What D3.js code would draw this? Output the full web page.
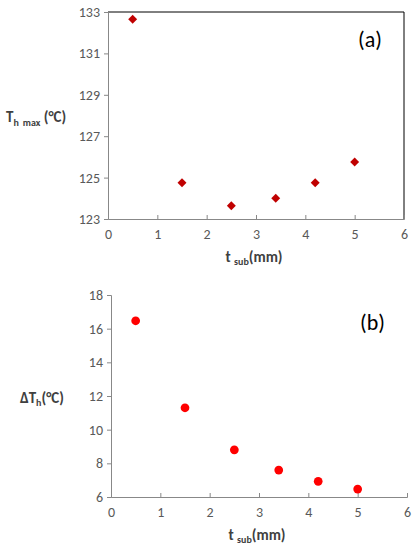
<!DOCTYPE html>
<html><head><meta charset="utf-8">
<script src="https://cdn.jsdelivr.net/npm/d3@7"></script>
<style>body{margin:0;background:#fff}text{font-family:Carlito,"Open Sans",sans-serif}</style>
</head><body><svg id="c" width="416" height="557"></svg>
<script>
const xA = [0.5, 1.5, 2.5, 3.4, 4.2, 5];
const thMax = [132.65, 124.75, 123.64, 124.0, 124.75, 125.75];
const xB = [0.5, 1.5, 2.5, 3.4, 4.2, 5];
const dTh = [16.47, 11.3, 8.8, 7.6, 6.93, 6.47];
const ticksA = [123, 125, 127, 129, 131, 133];
const ticksB = [6, 8, 10, 12, 14, 16, 18];
const ticksX = [0, 1, 2, 3, 4, 5, 6];

const svg = d3.select("#c");
const grey = "#595959";

function panel(o) {
    const x = d3.scaleLinear().domain([0, 6]).range([o.x0, o.x1]);
    const y = d3.scaleLinear().domain(o.dom).range([o.y1, o.y0]);
    const g = svg.append("g");
    if (o.box) {
        g.append("path").attr("d", `M${o.x0},${o.y0}H${o.x1}V${o.y1}`)
            .attr("stroke", "#000").attr("fill", "none");
    }
    g.append("g").attr("transform", `translate(0,${o.y1})`)
        .call(d3.axisBottom(x).tickValues(ticksX).tickFormat(d3.format("d")).tickSize(-4).tickPadding(10))
        .call(a => a.selectAll("line,path").attr("stroke", "#888"))
        .call(a => a.selectAll("text").attr("fill", grey).attr("font-size", 14));
    g.append("g").attr("transform", `translate(${o.x0},0)`)
        .call(d3.axisLeft(y).tickValues(o.ticks).tickFormat(d3.format("d")).tickSize(4).tickPadding(4))
        .call(a => a.selectAll("line,path").attr("stroke", "#888"))
        .call(a => a.selectAll("text").attr("fill", grey).attr("font-size", 14));
    g.selectAll(".pt").data(o.xs).join("path")
        .attr("d", d3.symbol(o.sym, o.size)())
        .attr("transform", (d, i) => `translate(${x(d)},${y(o.ys[i])}) rotate(${o.rot})`)
        .attr("fill", o.color);
    g.append("text").attr("x", o.x1 - 22).attr("y", o.y0 + 35).attr("text-anchor", "end")
        .attr("font-size", 22).text(o.tag);
    const xl = g.append("text").attr("x", (o.x0 + o.x1) / 2 - 2).attr("y", o.y1 + 43)
        .attr("text-anchor", "middle").attr("font-size", 15).attr("font-weight", "bold").attr("fill", "#404040");
    xl.append("tspan").text("t ");
    xl.append("tspan").attr("font-size", 10).attr("dy", 3).text("sub");
    xl.append("tspan").attr("dy", -3).text("(mm)");
    return g;
}

const a = panel({x0: 108, x1: 404, y0: 12, y1: 219, dom: [123, 133], ticks: ticksA,
    xs: xA, ys: thMax, sym: d3.symbolSquare, size: 40, rot: 45, color: "#c00000", tag: "(a)", box: true});
const yl = a.append("text").attr("x", 6).attr("y", 122).attr("font-size", 15)
    .attr("font-weight", "bold").attr("fill", "#404040");
yl.append("tspan").text("T");
yl.append("tspan").attr("font-size", 10).attr("dy", 4).text("h");
yl.append("tspan").attr("font-size", 10).attr("dx", 4).text("max");
yl.append("tspan").attr("dy", -4).text(" (°C)");

const b = panel({x0: 111, x1: 407, y0: 295, y1: 497, dom: [6, 18], ticks: ticksB,
    xs: xB, ys: dTh, sym: d3.symbolCircle, size: 60, rot: 0, color: "#ff0000", tag: "(b)", box: false});
const yl2 = b.append("text").attr("x", 20).attr("y", 403).attr("font-size", 15)
    .attr("font-weight", "bold").attr("fill", "#404040");
yl2.append("tspan").text("ΔT");
yl2.append("tspan").attr("font-size", 10).attr("dy", 3).text("h");
yl2.append("tspan").attr("dy", -3).text("(°C)");
</script></body></html>
